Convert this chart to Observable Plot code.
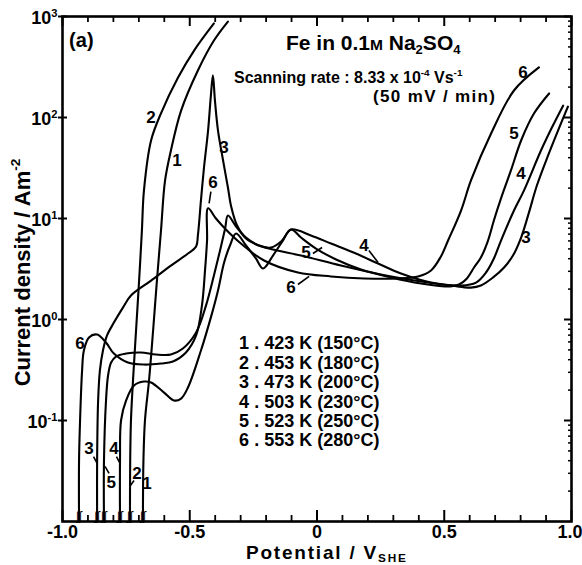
<!DOCTYPE html>
<html>
<head>
<meta charset="utf-8">
<script src="https://cdn.jsdelivr.net/npm/d3@7"></script>
<script src="https://cdn.jsdelivr.net/npm/@observablehq/plot@0.6"></script>
<style>
  html, body { margin: 0; padding: 0; background: #fff; }
</style>
</head>
<body>
<div id="chart"></div>
<script>
// Anodic polarization curves of Fe in 0.1 M Na2SO4: [potential / V(SHE), current density / A m^-2]
const curve1 = [
  [-0.684, 0.01], [-0.682, 0.04], [-0.676, 0.1], [-0.660, 0.249], [-0.644, 0.778],
  [-0.629, 2.43], [-0.613, 7.60], [-0.597, 23.8], [-0.574, 47.1], [-0.534, 117],
  [-0.468, 292], [-0.405, 578], [-0.350, 891]
];
const curve2 = [
  [-0.735, 0.01], [-0.734, 0.04], [-0.731, 0.1], [-0.723, 0.249], [-0.711, 0.778],
  [-0.699, 2.43], [-0.688, 7.60], [-0.680, 18.9], [-0.652, 59.2], [-0.613, 110],
  [-0.546, 249], [-0.483, 460], [-0.405, 853]
];
const curve3 = [
  [-0.864, 0.01], [-0.864, 0.04], [-0.860, 0.158], [-0.853, 0.313], [-0.841, 0.493],
  [-0.825, 0.695], [-0.798, 0.933], [-0.762, 1.32], [-0.731, 1.73], [-0.652, 2.43],
  [-0.574, 3.42], [-0.507, 4.50], [-0.475, 5.28], [-0.468, 6.79], [-0.456, 15.1],
  [-0.444, 32.0], [-0.428, 74.3], [-0.417, 165], [-0.409, 261], [-0.401, 147],
  [-0.389, 74.3], [-0.369, 37.5], [-0.350, 20.3], [-0.338, 13.4], [-0.314, 8.53],
  [-0.279, 6.34], [-0.228, 5.40], [-0.173, 4.93], [-0.063, 4.30], [0.094, 3.42],
  [0.251, 2.79], [0.409, 2.38], [0.527, 2.17], [0.605, 2.07], [0.644, 2.17],
  [0.692, 2.61], [0.735, 3.27], [0.770, 4.30], [0.802, 6.48], [0.833, 11.5],
  [0.864, 21.2], [0.908, 42.1], [0.947, 74.3], [0.986, 128]
];
const curve4 = [
  [-0.774, 0.01], [-0.774, 0.04], [-0.770, 0.1], [-0.750, 0.158], [-0.719, 0.222],
  [-0.680, 0.243], [-0.652, 0.238], [-0.601, 0.189], [-0.562, 0.158], [-0.534, 0.165],
  [-0.507, 0.212], [-0.456, 0.493], [-0.417, 1.05], [-0.389, 1.94], [-0.365, 3.67],
  [-0.342, 5.40], [-0.318, 7.10], [-0.279, 5.40], [-0.240, 4.02], [-0.212, 3.20],
  [-0.173, 4.30], [-0.134, 6.05], [-0.102, 7.78], [-0.024, 6.79], [0.055, 5.65],
  [0.153, 4.50], [0.240, 3.58], [0.330, 2.85], [0.448, 2.32], [0.566, 2.17],
  [0.625, 2.32], [0.664, 2.92], [0.695, 4.02], [0.723, 6.05], [0.774, 12.0],
  [0.813, 18.9], [0.880, 47.1], [0.923, 79.6], [0.967, 131]
];
const curve5 = [
  [-0.837, 0.01], [-0.837, 0.04], [-0.829, 0.158], [-0.821, 0.279], [-0.809, 0.375],
  [-0.790, 0.430], [-0.750, 0.460], [-0.692, 0.471], [-0.633, 0.450], [-0.574, 0.450],
  [-0.527, 0.516], [-0.475, 0.743], [-0.436, 1.38], [-0.405, 2.73], [-0.381, 4.82],
  [-0.361, 7.96], [-0.350, 10.7], [-0.318, 8.34], [-0.279, 6.48], [-0.228, 5.40],
  [-0.181, 5.16], [-0.141, 5.92], [-0.102, 7.78], [-0.063, 6.48], [-0.004, 5.04],
  [0.075, 3.93], [0.173, 3.13], [0.291, 2.61], [0.409, 2.27], [0.507, 2.12],
  [0.558, 2.22], [0.589, 2.55], [0.617, 3.27], [0.644, 4.11], [0.672, 6.05],
  [0.695, 9.55], [0.723, 15.8], [0.762, 29.9], [0.802, 59.2], [0.853, 110], [0.912, 173]
];
const curve6 = [
  [-0.935, 0.01], [-0.935, 0.04], [-0.931, 0.1], [-0.923, 0.313], [-0.916, 0.493],
  [-0.896, 0.664], [-0.864, 0.710], [-0.829, 0.592], [-0.798, 0.460], [-0.743, 0.375],
  [-0.680, 0.358], [-0.613, 0.367], [-0.566, 0.384], [-0.515, 0.471], [-0.475, 0.695],
  [-0.452, 1.38], [-0.440, 3.06], [-0.432, 6.05], [-0.428, 12.6], [-0.397, 10.0],
  [-0.358, 7.78], [-0.299, 5.65], [-0.208, 3.84], [-0.075, 2.92], [0.055, 2.67],
  [0.185, 2.55], [0.318, 2.55], [0.397, 2.67], [0.448, 3.06], [0.487, 4.21],
  [0.515, 6.05], [0.566, 12.0], [0.605, 23.8], [0.684, 69.4], [0.774, 185], [0.872, 313]
];

const curveNames = ["1", "2", "3", "4", "5", "6"];
const curveData = [curve1, curve2, curve3, curve4, curve5, curve6];
const tempsK = [423, 453, 473, 503, 523, 553];
const tempsC = [150, 180, 200, 230, 250, 280];

// number tags placed next to the curves
const curveTags = [
  {text: "2", E: -0.652, i: 100}, {text: "1", E: -0.550, i: 37.5},
  {text: "3", E: -0.365, i: 50.5}, {text: "6", E: -0.409, i: 22.9},
  {text: "5", E: -0.043, i: 4.60}, {text: "4", E: 0.185, i: 5.40},
  {text: "6", E: -0.102, i: 2.07}, {text: "6", E: 0.809, i: 279},
  {text: "5", E: 0.774, i: 69.4}, {text: "4", E: 0.802, i: 27.9},
  {text: "3", E: 0.821, i: 6.48}, {text: "6", E: -0.931, i: 0.578},
  {text: "3", E: -0.896, i: 0.0528}, {text: "4", E: -0.798, i: 0.0528},
  {text: "5", E: -0.809, i: 0.0243}, {text: "2", E: -0.707, i: 0.0299},
  {text: "1", E: -0.668, i: 0.0238}
];
// short leader strokes from a tag to its curve
const tagLeaders = [
  {E1: -0.417, i1: 18.5, E2: -0.424, i2: 14.1},
  {E1: -0.016, i1: 4.50, E2: 0.020, i2: 5.16},
  {E1: 0.204, i1: 4.82, E2: 0.240, i2: 3.67},
  {E1: -0.075, i1: 2.22, E2: -0.031, i2: 2.67},
  {E1: -0.878, i1: 0.044, E2: -0.866, i2: 0.0384},
  {E1: -0.788, i1: 0.044, E2: -0.776, i2: 0.0384},
  {E1: -0.817, i1: 0.0299, E2: -0.833, i2: 0.0351},
  {E1: -0.719, i1: 0.0255, E2: -0.733, i2: 0.0227}
];

const xMajor = [-1, -0.5, 0, 0.5];
const xMajorLabels = ["-1.0", "-0.5", "0", "0.5"];
const xLast = [1];
const xLastLabel = "1.0";
const xMinor = [-0.9, -0.8, -0.7, -0.6, -0.4, -0.3, -0.2, -0.1, 0.1, 0.2, 0.3, 0.4, 0.6, 0.7, 0.8, 0.9];
const yMajor = [0.1, 1, 10, 100, 1000];
const yMajorLabels = ["10^{-1}", "10^{0}", "10^{1}", "10^{2}", "10^{3}"];
const yMinor = [0.01, 0.1, 1, 10, 100].flatMap(d => [2, 3, 4, 5, 6, 7, 8, 9].map(k => +(d * k).toPrecision(2)));

const rows = curveData.flatMap((pts, k) => pts.map(([E, i]) => ({curve: curveNames[k], E, i})));
const legendText = curveNames.map((n, k) => `${n} . ${tempsK[k]} K (${tempsC[k]}°C)`).join("\n");
const footE = curveData.map(pts => pts[0][0]);

const W = 582, H = 565;
const M = {top: 16, right: 11, bottom: 44, left: 62};
const FW = W - M.left - M.right;
const FH = H - M.top - M.bottom;
const font = "'Liberation Sans', Arial, sans-serif";

const svg = Plot.plot({
  width: W, height: H,
  marginTop: M.top, marginRight: M.right, marginBottom: M.bottom, marginLeft: M.left,
  style: {fontFamily: font, background: "#fff", color: "#000", overflow: "visible"},
  x: {domain: [-1, 1], axis: null},
  y: {type: "log", domain: [0.01, 1000], axis: null},
  marks: [
    // polarization curves
    Plot.line(rows, {x: "E", y: "i", z: "curve", stroke: "#000", strokeWidth: 2.1, curve: "catmull-rom", clip: true}),
    // break marks where the curves leave the bottom of the chart
    Plot.text(footE, {x: d => d, frameAnchor: "bottom", dy: -2, text: () => "ʃʃ", fontSize: 12, fill: "#000"}),
    // ticks: bottom, top, left, right
    Plot.tickX([...xMajor, ...xLast], {x: d => d, insetTop: FH - 11, strokeWidth: 2}),
    Plot.tickX(xMinor, {x: d => d, insetTop: FH - 6, strokeWidth: 1.8}),
    Plot.tickX([...xMajor, ...xLast], {x: d => d, insetBottom: FH - 10, strokeWidth: 2}),
    Plot.tickX(xMinor, {x: d => d, insetBottom: FH - 6, strokeWidth: 1.8}),
    Plot.tickY(yMajor, {y: d => d, insetLeft: -4, insetRight: FW - 5, strokeWidth: 2}),
    Plot.tickY(yMajor, {y: d => d, insetLeft: FW - 7, strokeWidth: 2}),
    Plot.tickY(yMinor, {y: d => d, insetLeft: FW - 3, strokeWidth: 1.5}),
    Plot.frame({stroke: "#000", strokeWidth: 2.6}),
    // tick labels
    Plot.text(xMajor, {x: d => d, text: (d, k) => xMajorLabels[k], frameAnchor: "bottom", dy: 11, lineAnchor: "middle", fontSize: 18, fontWeight: "bold"}),
    Plot.text(xLast, {x: d => d, text: () => xLastLabel, frameAnchor: "bottom", dy: 11, dx: 11, lineAnchor: "middle", textAnchor: "end", fontSize: 18, fontWeight: "bold"}),
    Plot.text(yMajor, {y: d => d, text: (d, k) => yMajorLabels[k], frameAnchor: "left", dx: -5, dy: 2, textAnchor: "end", fontSize: 18, fontWeight: "bold"}),
    // axis titles
    Plot.text(["Potential / V_{SHE}"], {x: 0.035, frameAnchor: "bottom", dy: 31, lineAnchor: "middle", fontSize: 19, fontWeight: "bold"}),
    Plot.text(["Current density / Am^{-2}"], {y: 2.92, frameAnchor: "left", dx: -40, rotate: -90, textAnchor: "middle", lineAnchor: "middle", fontSize: 22, fontWeight: "bold"}),
    // panel annotations
    Plot.text(["(a)"], {x: -0.974, y: 578, textAnchor: "start", fontSize: 20, fontWeight: "bold"}),
    Plot.text(["Fe in 0.1~{M} Na_{2}SO_{4}"], {x: -0.122, y: 541, textAnchor: "start", fontSize: 21, fontWeight: "bold"}),
    Plot.text(["Scanning rate : 8.33 x 10^{-4} Vs^{-1}"], {x: -0.326, y: 249, textAnchor: "start", fontSize: 16, fontWeight: "bold"}),
    Plot.text(["(50 mV / min)"], {x: 0.220, y: 161, textAnchor: "start", fontSize: 17, fontWeight: "bold"}),
    Plot.text([legendText], {x: -0.306, y: 0.695, textAnchor: "start", lineAnchor: "top", lineHeight: 1.08, fontSize: 18, fontWeight: "bold"}),
    // curve tags and their leaders
    Plot.text(curveTags, {x: "E", y: "i", text: "text", fontSize: 17, fontWeight: "bold"}),
    Plot.link(tagLeaders, {x1: "E1", y1: "i1", x2: "E2", y2: "i2", stroke: "#000", strokeWidth: 1.6})
  ]
});

document.getElementById("chart").appendChild(svg);

// widen the letter spacing of a few typeset lines
const spread = new Map([["(50 mV / min)", 122], ["Potential / V_{SHE}", 160]]);
d3.select(svg).selectAll("text")
  .filter(function () { return spread.has(this.textContent); })
  .each(function () {
    d3.select(this).attr("textLength", spread.get(this.textContent)).attr("lengthAdjust", "spacing");
  });

// expand ^{...} superscripts, _{...} subscripts and ~{...} small capitals into tspans
d3.select(svg).selectAll("text").each(function () {
  const src = this.textContent;
  if (!/[\^_~]\{/.test(src)) return;
  const fs = parseFloat(getComputedStyle(this).fontSize) || 16;
  const sel = d3.select(this);
  sel.text(null);
  let off = 0;
  for (const part of src.split(/([\^_~]\{[^}]*\})/)) {
    if (!part) continue;
    const m = part.match(/^([\^_~])\{([^}]*)\}$/);
    const t = sel.append("tspan");
    if (m) {
      const target = m[1] === "^" ? -0.42 * fs : m[1] === "_" ? 0.2 * fs : 0;
      t.attr("font-size", (m[1] === "~" ? 0.74 : 0.62) * fs).attr("dy", target - off).text(m[2]);
      off = target;
    } else {
      t.attr("dy", -off).text(part);
      off = 0;
    }
  }
});
</script>
</body>
</html>
